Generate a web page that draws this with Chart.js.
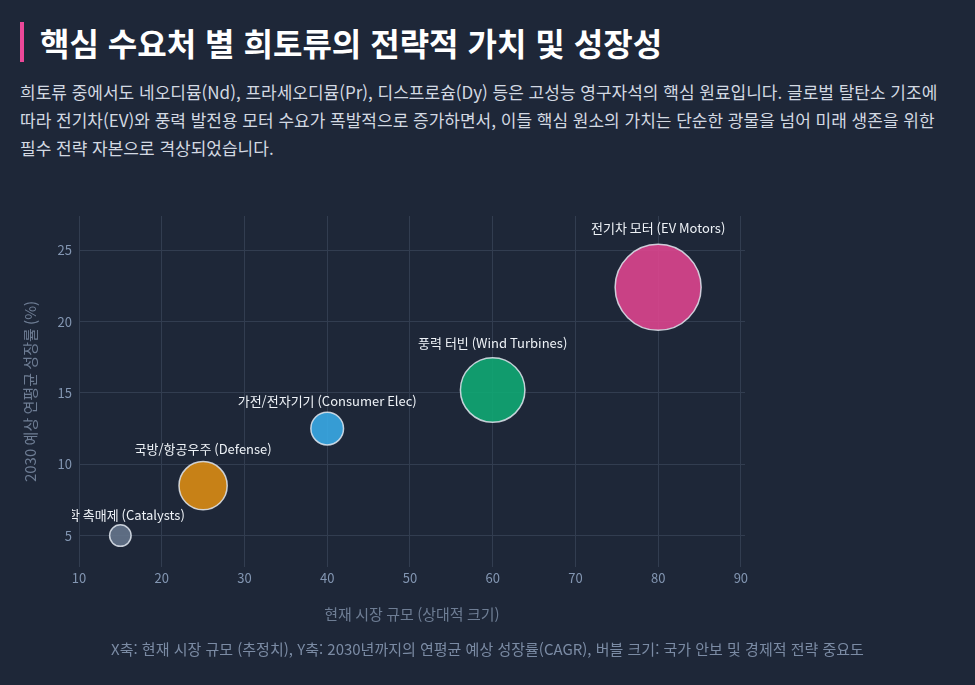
<!DOCTYPE html>
<html lang="ko">
<head>
<meta charset="utf-8">
<script src="https://cdn.jsdelivr.net/npm/chart.js@4.4.1/dist/chart.umd.min.js"></script>
<style>
  html, body { margin: 0; padding: 0; background: #1e2738; }
  body { width: 975px; height: 685px; position: relative; overflow: hidden;
         font-family: "Noto Sans CJK KR", "Noto Sans", sans-serif; }
  .title { position: absolute; left: 20px; top: 22px; height: 40px; border-left: 4px solid #ec4899;
           padding-left: 16px; color: #ffffff; font-size: 32px; font-weight: 700; line-height: 40px;
           white-space: nowrap; }
  .desc { position: absolute; left: 20px; top: 78px; color: #d3d9e2; font-size: 17px; line-height: 28px;
          white-space: nowrap; }
  .chart-box { position: absolute; left: 0; top: 190px; width: 975px; height: 450px; }
  .footer { position: absolute; left: 0; width: 975px; top: 638px; text-align: center;
            color: #7b8ba4; font-size: 15px; }
</style>
</head>
<body>
<div class="title">핵심 수요처 별 희토류의 전략적 가치 및 성장성</div>
<div class="desc">
  희토류 중에서도 네오디뮴(Nd), 프라세오디뮴(Pr), 디스프로슘(Dy) 등은 고성능 영구자석의 핵심 원료입니다. 글로벌 탈탄소 기조에<br>
  따라 전기차(EV)와 풍력 발전용 모터 수요가 폭발적으로 증가하면서, 이들 핵심 원소의 가치는 단순한 광물을 넘어 미래 생존을 위한<br>
  필수 전략 자본으로 격상되었습니다.
</div>
<div class="chart-box"><canvas id="bubbleChart"></canvas></div>
<div class="footer">X축: 현재 시장 규모 (추정치), Y축: 2030년까지의 연평균 예상 성장률(CAGR), 버블 크기: 국가 안보 및 경제적 전략 중요도</div>

<script>
// 데이터
const sectors = ["화학 촉매제 (Catalysts)", "국방/항공우주 (Defense)", "가전/전자기기 (Consumer Elec)", "풍력 터빈 (Wind Turbines)", "전기차 모터 (EV Motors)"];
const marketSize = [15, 25, 40, 60, 80];
const growthRate = [5, 8.5, 12.5, 15.2, 22.4];
const importance = [25, 56, 38, 75, 100];
const colors = ["rgba(100, 116, 139, 0.9)", "rgba(217, 140, 20, 0.9)", "rgba(56, 170, 230, 0.9)", "rgba(16, 168, 115, 0.9)", "rgba(219, 69, 142, 0.9)"];
const xTicks = [10, 20, 30, 40, 50, 60, 70, 80, 90];
const yTicks = [5, 10, 15, 20, 25];

const sizeScale = 0.43; // 중요도 -> 반지름(px)

// 버블 위 라벨
const bubbleLabels = {
    id: "bubbleLabels",
    afterDatasetsDraw(chart) {
        const ctx = chart.ctx;
        const meta = chart.getDatasetMeta(0);
        ctx.save();
        ctx.beginPath();
        ctx.rect(72, 0, chart.width - 72, chart.height);
        ctx.clip();
        ctx.font = "13px 'Noto Sans CJK KR', sans-serif";
        ctx.fillStyle = "#eef2f7";
        ctx.textAlign = "center";
        ctx.textBaseline = "middle";
        meta.data.forEach((pt, i) => {
            const r = importance[i] * sizeScale;
            ctx.fillText(sectors[i], pt.x, pt.y - r - (8 + r * 0.2));
        });
        ctx.restore();
    }
};

const ctx = document.getElementById("bubbleChart").getContext("2d");
new Chart(ctx, {
    type: "bubble",
    data: {
        datasets: [{
            data: marketSize.map((x, i) => ({ x: x, y: growthRate[i], r: importance[i] * sizeScale })),
            backgroundColor: colors,
            borderColor: "rgba(226, 232, 240, 0.85)",
            borderWidth: 1.5,
            hoverRadius: 0
        }]
    },
    options: {
        responsive: true,
        maintainAspectRatio: false,
        animation: false,
        layout: { autoPadding: false, padding: { left: 0, right: 230, top: 26, bottom: 0 } },
        plugins: { legend: { display: false }, tooltip: { enabled: false } },
        scales: {
            x: {
                type: "linear",
                min: 10,
                max: 90.5,
                afterBuildTicks: s => { s.ticks = xTicks.map(v => ({ value: v })); },
                afterFit: s => { s.height = 73; },
                grid: { color: "#323d50", drawTicks: false },
                border: { display: false },
                ticks: { color: "#8396b2", font: { size: 13, family: "'Noto Sans CJK KR', sans-serif" }, padding: 3 },
                title: { display: true, text: "현재 시장 규모 (상대적 크기)", color: "#6e7d94",
                         font: { size: 15, family: "'Noto Sans CJK KR', sans-serif" }, padding: { top: 0, bottom: 17 } }
            },
            y: {
                type: "linear",
                min: 2.8,
                max: 27.4,
                afterBuildTicks: s => { s.ticks = yTicks.map(v => ({ value: v })); },
                afterFit: s => { s.width = 79; },
                grid: { color: "#323d50", drawTicks: false },
                border: { display: false },
                ticks: { color: "#8396b2", font: { size: 13, family: "'Noto Sans CJK KR', sans-serif" }, padding: 7 },
                title: { display: true, text: "2030 예상 연평균 성장률 (%)", color: "#6e7d94",
                         font: { size: 15, family: "'Noto Sans CJK KR', sans-serif" }, padding: { top: 21, bottom: 0 } }
            }
        }
    },
    plugins: [bubbleLabels]
});
</script>
</body>
</html>
